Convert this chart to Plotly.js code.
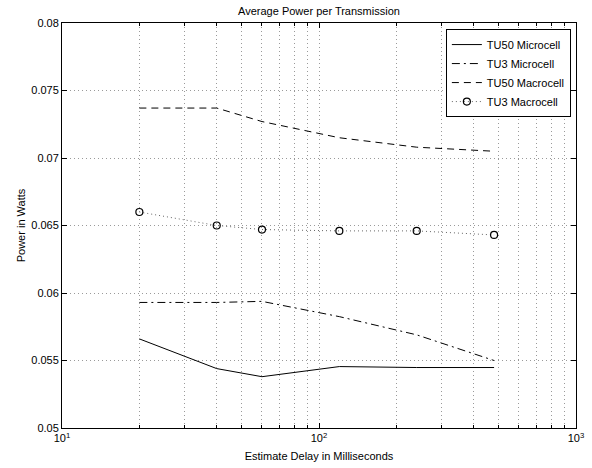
<!DOCTYPE html>
<html>
<head>
<meta charset="utf-8">
<script src="https://cdn.plot.ly/plotly-3.0.1.min.js"></script>
<style>html,body{margin:0;padding:0;background:#fff;}#chart{width:592px;height:468px;}</style>
</head>
<body>
<div id="chart"></div>
<script>
// Data
const delays = [20, 40, 60, 120, 240, 480];
const tu50Micro = [0.0566, 0.0544, 0.0538, 0.05455, 0.05448, 0.05448];
const tu3Micro = [0.0593, 0.0593, 0.05938, 0.05825, 0.0569, 0.0550];
const tu50Macro = [0.0737, 0.0737, 0.0727, 0.0715, 0.0708, 0.0705];
const tu3Macro = [0.0660, 0.0650, 0.0647, 0.0646, 0.0646, 0.0643];
const seriesNames = ['TU50 Microcell', 'TU3 Microcell', 'TU50 Macrocell', 'TU3 Macrocell'];
const yTickVals = [0.05, 0.055, 0.06, 0.065, 0.07, 0.075, 0.08];
const yTickText = ['0.05', '0.055', '0.06', '0.065', '0.07', '0.075', '0.08'];
const xMajor = [10, 100, 1000];
const xMajorText = ['10<sup>1</sup>', '10<sup>2</sup>', '10<sup>3</sup>'];

// minor log grid positions (2..9 per decade)
const xMinor = [];
for (let d = 10; d < 1000; d *= 10) {
  for (let k = 2; k < 10; k++) xMinor.push(d * k);
}

const fam = 'Liberation Sans, Arial, sans-serif';
const font = {family: fam, size: 11, color: '#000'};
const gridCol = '#9a9a9a';
const gridDash = '1px,3px';

const traces = [
  {x: delays, y: tu50Micro, name: seriesNames[0], mode: 'lines',
   line: {color: '#000', width: 1, dash: 'solid'}},
  {x: delays, y: tu3Micro, name: seriesNames[1], mode: 'lines',
   line: {color: '#000', width: 1, dash: '8px,4px,2px,4px'}},
  {x: delays, y: tu50Macro, name: seriesNames[2], mode: 'lines',
   line: {color: '#000', width: 1, dash: '7px,5px'}},
  {x: delays, y: tu3Macro, name: seriesNames[3], mode: 'lines+markers',
   line: {color: '#666', width: 1, dash: '1px,3px'},
   marker: {symbol: 'circle-open', size: 7, color: '#000', line: {width: 1.2, color: '#000'}}}
];

const layout = {
  width: 592, height: 468,
  margin: {l: 62, r: 16, t: 23, b: 40},
  paper_bgcolor: '#fff', plot_bgcolor: '#fff',
  font: font,
  title: {text: 'Average Power per Transmission', font: {family: fam, size: 11, color: '#000'},
          x: 0.5, xref: 'paper', xanchor: 'center', y: 1, yref: 'container', yanchor: 'top', pad: {t: 7}},
  showlegend: true,
  legend: {x: 0.99, y: 0.985, xanchor: 'right', yanchor: 'top', bgcolor: '#fff',
           bordercolor: '#000', borderwidth: 1, font: {family: fam, size: 11, color: '#000'},
           tracegroupgap: 0, itemwidth: 30},
  xaxis: {
    type: 'log', range: [1, 3],
    tickmode: 'array', tickvals: xMajor, ticktext: xMajorText,
    ticks: 'inside', ticklen: 5, tickcolor: '#000', tickwidth: 1,
    showline: true, linecolor: '#000', linewidth: 1, mirror: 'ticks',
    showgrid: true, gridcolor: gridCol, griddash: gridDash, gridwidth: 1,
    minor: {tickmode: 'array', tickvals: xMinor, ticks: 'inside', ticklen: 3, tickcolor: '#000',
            showgrid: true, gridcolor: gridCol, griddash: gridDash, gridwidth: 1},
    zeroline: false,
    tickfont: {family: fam, size: 11, color: '#000'},
    title: {text: 'Estimate Delay in Milliseconds', font: {family: fam, size: 11, color: '#000'}, standoff: 9}
  },
  yaxis: {
    range: [0.05, 0.08],
    tickmode: 'array', tickvals: yTickVals, ticktext: yTickText,
    ticks: 'inside', ticklen: 5, tickcolor: '#000', tickwidth: 1,
    showline: true, linecolor: '#000', linewidth: 1, mirror: 'ticks',
    showgrid: true, gridcolor: gridCol, griddash: gridDash, gridwidth: 1,
    zeroline: false,
    tickfont: {family: fam, size: 11, color: '#000'},
    title: {text: 'Power in Watts', font: {family: fam, size: 11, color: '#000'}, standoff: 3}
  }
};

Plotly.newPlot('chart', traces, layout, {displayModeBar: false, staticPlot: true});
</script>
</body>
</html>
